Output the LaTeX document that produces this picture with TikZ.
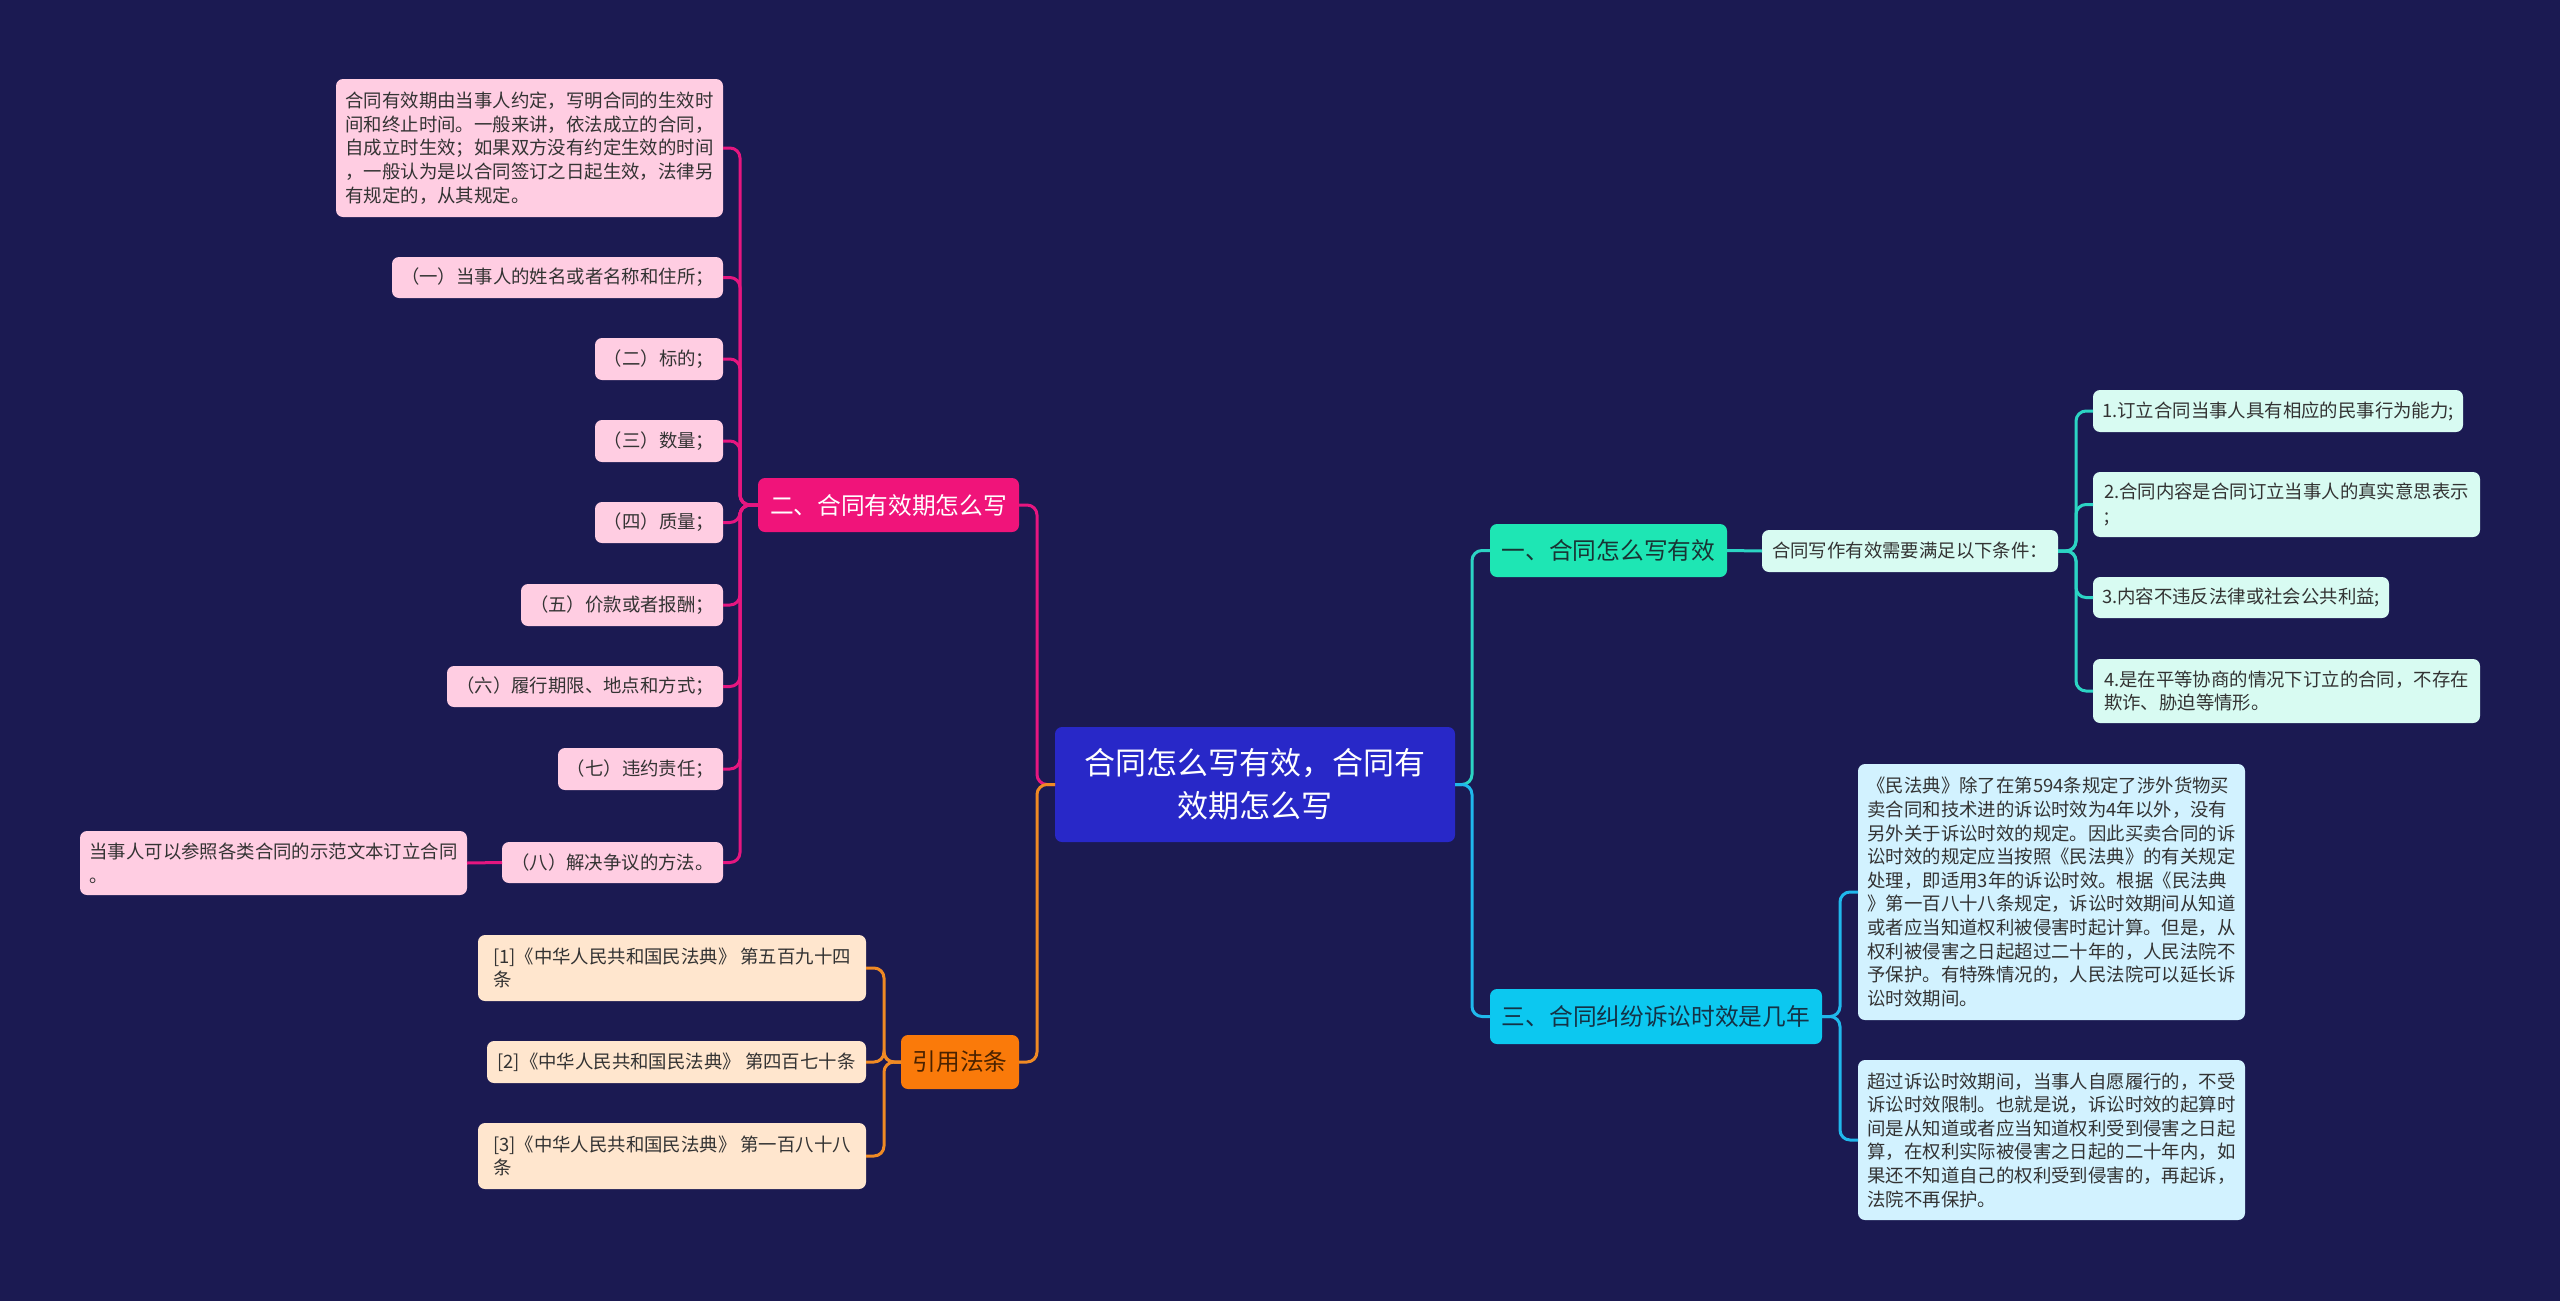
\documentclass[tikz,border=0pt]{standalone}
\usepackage{fontspec}
\newfontfamily\cjk{Noto Sans CJK SC}
\definecolor{bgc}{RGB}{27,26,82}
\definecolor{rootfill}{RGB}{40,40,200}
\definecolor{pinkmain}{RGB}{240,20,122}
\definecolor{orangemain}{RGB}{250,122,10}
\definecolor{tealmain}{RGB}{30,230,180}
\definecolor{cyanmain}{RGB}{12,200,240}
\definecolor{pinkfill}{RGB}{255,205,226}
\definecolor{peachfill}{RGB}{255,230,206}
\definecolor{mintfill}{RGB}{216,251,242}
\definecolor{cyanfill}{RGB}{210,242,255}
\definecolor{leaftext}{RGB}{51,51,51}
\definecolor{pinkline}{RGB}{230,22,128}
\definecolor{orangeline}{RGB}{240,138,36}
\definecolor{tealline}{RGB}{44,212,196}
\definecolor{blueline}{RGB}{32,184,236}
\begin{document}
\begin{tikzpicture}[x=1pt,y=-1pt,
  base/.style={rounded corners=7pt, inner sep=3pt, outer sep=0pt},
  sz/.style 2 args={minimum width=#1, minimum height=#2},
  leaf/.style={base, font=\cjk\fontsize{18.4}{23.6}\selectfont, text=leaftext, align=left},
  pk/.style={leaf, fill=pinkfill, anchor=north east},
  pe/.style={leaf, fill=peachfill, anchor=north east},
  mt/.style={leaf, fill=mintfill, anchor=north west},
  cy/.style={leaf, fill=cyanfill, anchor=north west},
  branch/.style={base, anchor=north west, font=\cjk\fontsize{23.7}{28}\selectfont},
  conn/.style={line width=3pt, rounded corners=10pt},
  lpink/.style={conn, draw=pinkline},
  lorange/.style={conn, draw=orangeline},
  lteal/.style={conn, draw=tealline},
  lblue/.style={conn, draw=blueline}
]
\fill[bgc] (0,0) rectangle (2560,1301);
\useasboundingbox (0,0) rectangle (2560,1301);

% root
\node[base, anchor=north west, sz={400}{115}, fill=rootfill, text=white, align=center,
  font=\cjk\fontsize{31}{43}\selectfont] (root) at (1055,727) {合同怎么写有效，合同有\\效期怎么写};

% branches
\node[branch, sz={261}{54}, fill=pinkmain, text=white] (n2) at (758,478) {二、合同有效期怎么写};
\node[branch, sz={118}{54}, fill=orangemain, text={rgb,255:red,74;green,34;blue,0}] (n3) at (901,1035) {引用法条};
\node[branch, sz={237}{53}, fill=tealmain, text={rgb,255:red,24;green,52;blue,52}] (n1) at (1490,524) {一、合同怎么写有效};
\node[branch, sz={332}{55}, fill=cyanmain, text={rgb,255:red,20;green,50;blue,70}] (n4) at (1490,989) {三、合同纠纷诉讼时效是几年};

% pink leaves
\node[pk, sz={387}{138}] (p0) at (723,79) {合同有效期由当事人约定，写明合同的生效时\\间和终止时间。一般来讲，依法成立的合同，\\自成立时生效；如果双方没有约定生效的时间\\，一般认为是以合同签订之日起生效，法律另\\有规定的，从其规定。};
\node[pk, sz={331}{41}] (p1) at (723,257) {（一）当事人的姓名或者名称和住所；};
\node[pk, sz={128}{42}] (p2) at (723,338) {（二）标的；};
\node[pk, sz={128}{42}] (p3) at (723,420) {（三）数量；};
\node[pk, sz={128}{41}] (p4) at (723,502) {（四）质量；};
\node[pk, sz={202}{42}] (p5) at (723,584) {（五）价款或者报酬；};
\node[pk, sz={276}{41}] (p6) at (723,666) {（六）履行期限、地点和方式；};
\node[pk, sz={165}{42}] (p7) at (723,748) {（七）违约责任；};
\node[pk, sz={221}{41}] (p8) at (723,842) {（八）解决争议的方法。};
\node[pk, sz={387}{64}] (p8c) at (467,831) {当事人可以参照各类合同的示范文本订立合同\\。};

% peach leaves
\node[pe, sz={388}{66}] (r1) at (866,935) {[1]《中华人民共和国民法典》 第五百九十四\\条};
\node[pe, sz={379}{42}] (r2) at (866,1041) {[2]《中华人民共和国民法典》 第四百七十条};
\node[pe, sz={388}{66}] (r3) at (866,1123) {[3]《中华人民共和国民法典》 第一百八十八\\条};

% mint leaves
\node[mt, sz={296}{42}] (m0) at (1762,530) {合同写作有效需要满足以下条件：};
\node[mt, sz={370}{42}] (m1) at (2093,390) {1.订立合同当事人具有相应的民事行为能力;};
\node[mt, sz={387}{65}] (m2) at (2093,472) {2.合同内容是合同订立当事人的真实意思表示\\;};
\node[mt, sz={296}{41}] (m3) at (2093,577) {3.内容不违反法律或社会公共利益;};
\node[mt, sz={387}{64}] (m4) at (2093,659) {4.是在平等协商的情况下订立的合同，不存在\\欺诈、胁迫等情形。};

% cyan leaves
\node[cy, sz={387}{256}] (k1) at (1858,764) {《民法典》除了在第594条规定了涉外货物买\\卖合同和技术进的诉讼时效为4年以外，没有\\另外关于诉讼时效的规定。因此买卖合同的诉\\讼时效的规定应当按照《民法典》的有关规定\\处理，即适用3年的诉讼时效。根据《民法典\\》第一百八十八条规定，诉讼时效期间从知道\\或者应当知道权利被侵害时起计算。但是，从\\权利被侵害之日起超过二十年的，人民法院不\\予保护。有特殊情况的，人民法院可以延长诉\\讼时效期间。};
\node[cy, sz={387}{160}] (k2) at (1858,1060) {超过诉讼时效期间，当事人自愿履行的，不受\\诉讼时效限制。也就是说，诉讼时效的起算时\\间是从知道或者应当知道权利受到侵害之日起\\算，在权利实际被侵害之日起的二十年内，如\\果还不知道自己的权利受到侵害的，再起诉，\\法院不再保护。};

% connectors: root to branches
\draw[lpink] (root.west) -- ++(-18,0) |- (n2.east);
\draw[lorange] (root.west) -- ++(-18,0) |- (n3.east);
\draw[lteal] (root.east) -- ++(17,0) |- (n1.west);
\draw[lblue] (root.east) -- ++(17,0) |- (n4.west);

% pink branch
\foreach \c in {p0,p1,p2,p3,p4,p5,p6,p7,p8}
  \draw[lpink] (n2.west) -- ++(-18,0) |- (\c.east);
\draw[lpink] (p8.west) -- (p8c.east);

% orange branch
\foreach \c in {r1,r2,r3}
  \draw[lorange] (n3.west) -- ++(-17,0) |- (\c.east);

% teal branch
\draw[lteal] (n1.east) -- (m0.west);
\foreach \c in {m1,m2,m3,m4}
  \draw[lteal] (m0.east) -- ++(18,0) |- (\c.west);

% blue branch
\foreach \c in {k1,k2}
  \draw[lblue] (n4.east) -- ++(18,0) |- (\c.west);
\end{tikzpicture}
\end{document}
